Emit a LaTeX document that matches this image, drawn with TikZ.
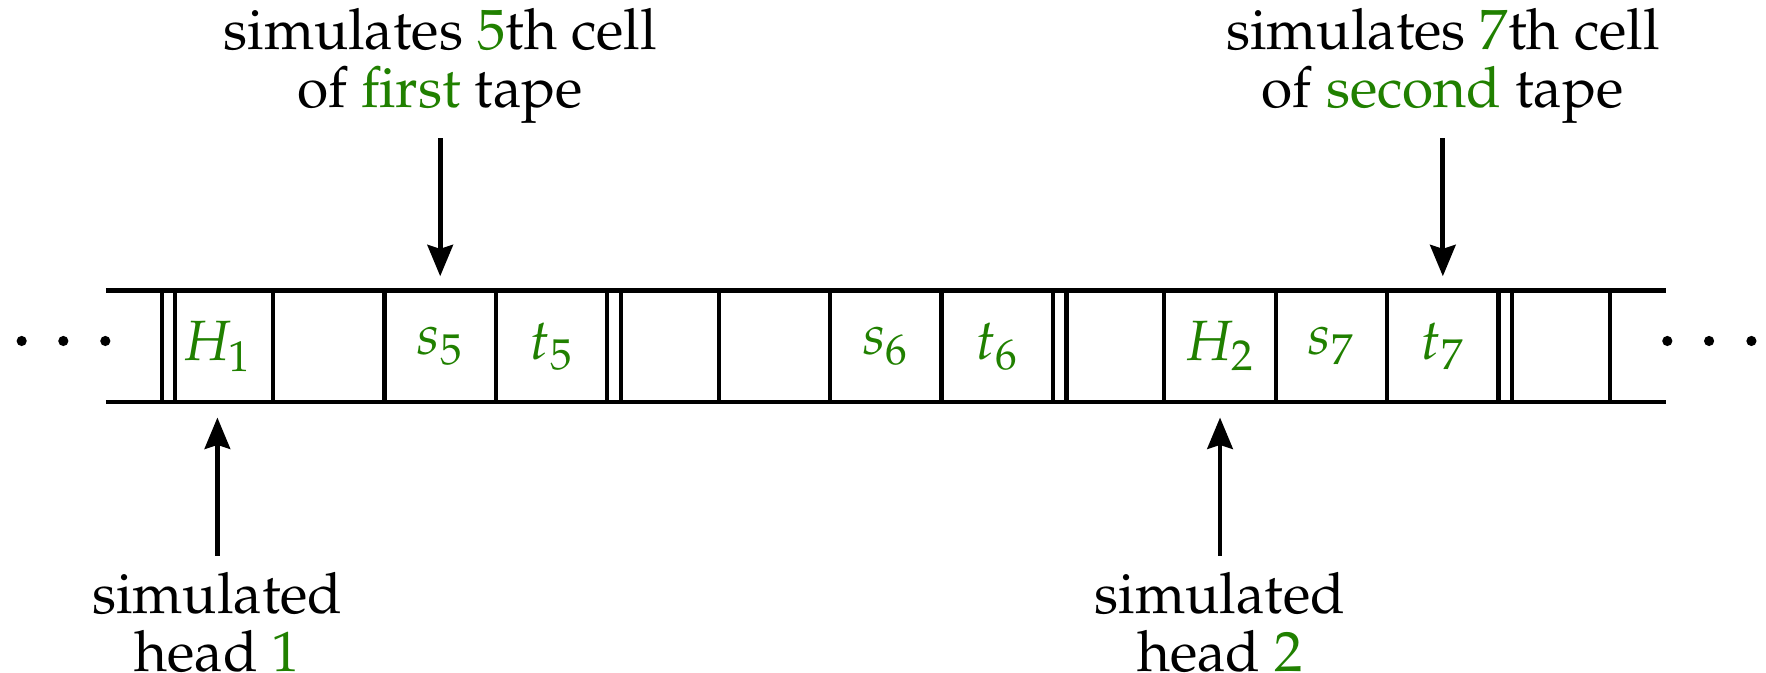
\documentclass[tikz,border=0pt]{standalone}
\usepackage[T1]{fontenc}
\usepackage{mathpazo}
\usetikzlibrary{arrows.meta}
\definecolor{grn}{RGB}{32,128,0}
\begin{document}
\begin{tikzpicture}[
  tape/.style={line width=1.1pt},
  lbl/.style={font=\fontsize{14.5}{14.7}\selectfont, align=center, inner sep=0pt},
  cellc/.style={inner sep=0pt, minimum width=1cm, minimum height=1cm, text=grn, font=\fontsize{14.5}{14.7}\selectfont},
  arr/.style={line width=1.2pt, -{Stealth[length=8pt,width=6.5pt,inset=1pt]}},
  tapedot/.style={circle, fill, inner sep=0pt, minimum size=2.6pt}
]
\useasboundingbox (-1.4515,-2.424) rectangle (14.401,3.609);

% cells
\foreach \i/\t in {0/{$H_1$},1/{},2/{$s_5$},3/{$t_5$},4/{},5/{},6/{$s_6$},7/{$t_6$},8/{},9/{$H_2$},10/{$s_7$},11/{$t_7$},12/{}}
  \node[cellc] (c\i) at (\i+0.5,0.5) {\t};

% tape
\draw[tape] (-0.5,0) -- (13.5,0);
\draw[tape] (-0.5,1) -- (13.5,1);
\foreach \x in {0,...,13} \draw[tape] (\x,0) -- (\x,1);
\foreach \x in {0,4,8,12} \draw[tape] (\x+0.122,0) -- (\x+0.122,1);

% dots
\node[tapedot] (dl1) at (-1.257,0.548) {};
\node[tapedot] (dl2) at (-0.883,0.548) {};
\node[tapedot] (dl3) at (-0.506,0.548) {};
\node[tapedot] (dr1) at (13.515,0.548) {};
\node[tapedot] (dr2) at (13.89,0.548) {};
\node[tapedot] (dr3) at (14.27,0.548) {};

% labels
\node[lbl, anchor=south] (top1) at (2.5,2.497) {simulates \textcolor{grn}{5}th cell\\of \textcolor{grn}{first} tape};
\node[lbl, anchor=south] (top2) at (11.5,2.497) {simulates \textcolor{grn}{7}th cell\\of \textcolor{grn}{second} tape};
\node[lbl, anchor=north] (bot1) at (0.5,-1.523) {simulated\\head \textcolor{grn}{1}};
\node[lbl, anchor=north] (bot2) at (9.5,-1.523) {simulated\\head \textcolor{grn}{2}};

% arrows
\draw[arr, shorten <=0.127cm, shorten >=0.122cm] (top1) -- (c2);
\draw[arr, shorten <=0.127cm, shorten >=0.122cm] (top2) -- (c11);
\draw[arr, shorten <=0.141cm, shorten >=0.132cm] (bot1) -- (c0);
\draw[arr, shorten <=0.141cm, shorten >=0.132cm] (bot2) -- (c9);
\end{tikzpicture}
\end{document}
